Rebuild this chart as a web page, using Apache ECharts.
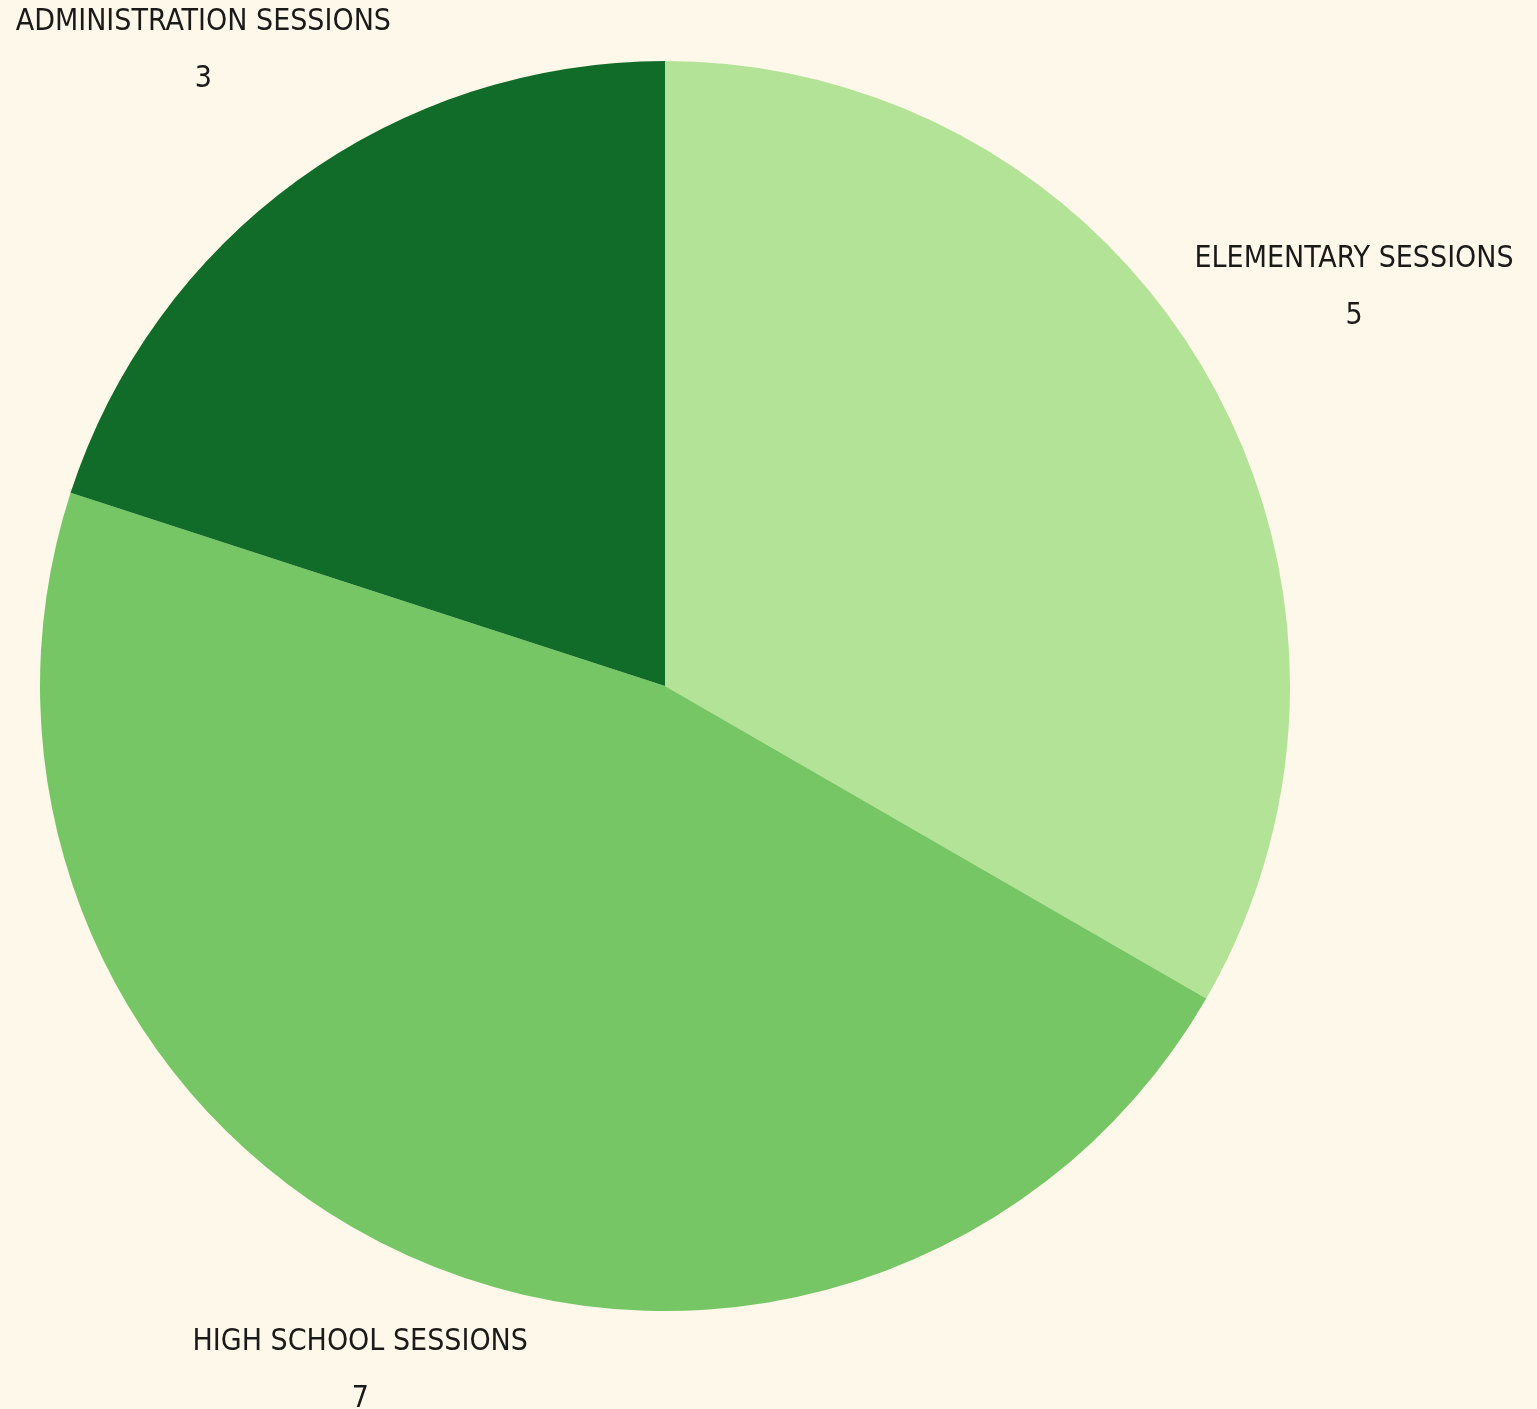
<!DOCTYPE html>
<html>
<head>
<meta charset="utf-8">
<script src="https://cdn.jsdelivr.net/npm/echarts@6/dist/echarts.min.js"></script>
<style>
  html, body { margin: 0; padding: 0; background: #fef8ea; }
  #chart { width: 1537px; height: 1409px; }
</style>
</head>
<body>
<div id="chart"></div>
<script>
// Session counts, in the order the pie draws them (clockwise from 12 o'clock).
const categories = ['ELEMENTARY SESSIONS', 'HIGH SCHOOL SESSIONS', 'ADMINISTRATION SESSIONS'];
const sessionCounts = [5, 7, 3];
const sliceColors = ['#b3e396', '#77c665', '#116b29'];

const CX = 665, CY = 686, R = 625;
const total = sessionCounts.reduce((a, b) => a + b, 0);

// mid angle (clockwise from top, radians) of each slice
const midAngles = [];
let acc = 0;
sessionCounts.forEach((v) => {
  midAngles.push(((acc + v / 2) / total) * Math.PI * 2);
  acc += v;
});

const chart = echarts.init(document.getElementById('chart'));

chart.setOption({
  backgroundColor: '#fef8ea',
  animation: false,
  series: [{
    type: 'pie',
    center: [CX, CY],
    radius: R,
    startAngle: 90,
    clockwise: true,
    data: categories.map((name, i) => ({
      name,
      value: sessionCounts[i],
      itemStyle: { color: sliceColors[i] }
    })),
    // 'inside' avoids the outside-label width truncation; labelLayout moves them out
    label: {
      show: true,
      position: 'inside',
      formatter: '{b}\n{c}',
      fontFamily: '"Liberation Sans Narrow", "DejaVu Sans Condensed", sans-serif',
      fontSize: 30,
      lineHeight: 57,
      color: '#1a1a1a',
      align: 'center'
    },
    labelLine: { show: false },
    // put each label box just outside the rim, along its slice's mid line
    labelLayout: (params) => {
      const a = midAngles[params.dataIndex];
      const dx = Math.sin(a), dy = -Math.cos(a);
      const hw = params.labelRect.width / 2, hh = params.labelRect.height / 2;
      const d = R + 4 + Math.abs(dx) * hw + Math.abs(dy) * hh;
      return {
        x: CX + dx * d,
        y: CY + dy * d,
        align: 'center',
        verticalAlign: 'middle'
      };
    }
  }]
});
</script>
</body>
</html>
